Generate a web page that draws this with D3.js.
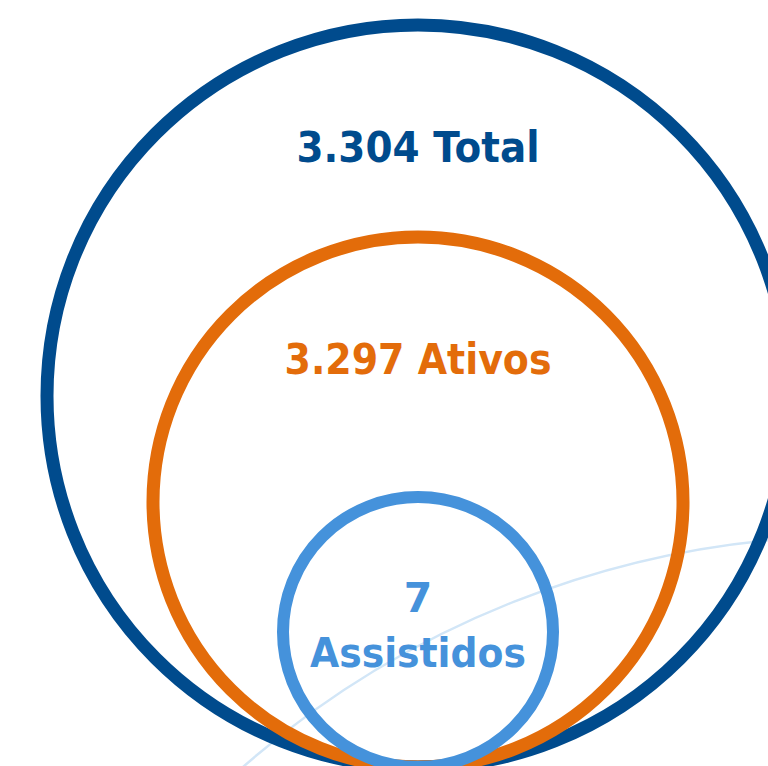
<!DOCTYPE html>
<html>
<head>
<meta charset="utf-8">
<script src="https://cdn.jsdelivr.net/npm/d3@7"></script>
<style>
  html, body { margin: 0; padding: 0; background: #fff; }
  svg { display: block; }
</style>
</head>
<body>
<svg id="mainSVG" width="768" height="766"></svg>
<script>
// data
var categories = ["Total", "Ativos", "Assistidos"];
var values = [3304, 3297, 7];
var valueLabels = ["3.304", "3.297", "7"];

var width = 768, height = 766;
var svg = d3.select("#mainSVG");

// circles are nested and all touch the same bottom line
var cx = 418, baseY = 767;

var radius = d3.scaleOrdinal().domain(categories).range([371, 265, 135]);
var color = d3.scaleOrdinal().domain(categories).range(["#004b8d", "#e36c0a", "#4592db"]);
var strokeW = d3.scaleOrdinal().domain(categories).range([13, 13, 12]);

var rows = categories.map(function(c, i) {
  return { cat: c, value: values[i], label: valueLabels[i] };
});

// faint decorative arc behind everything
svg.append("circle")
    .attr("cx", 858)
    .attr("cy", 1470)
    .attr("r", 934)
    .style("fill", "none")
    .style("stroke", "#d2e6f7")
    .style("stroke-width", 2.5);

svg.selectAll("circle.ring")
    .data(rows)
    .enter().append("circle")
    .attr("class", "ring")
    .attr("cx", cx)
    .attr("cy", function(d) { return baseY - radius(d.cat); })
    .attr("r", function(d) { return radius(d.cat); })
    .style("fill", "none")
    .style("stroke", function(d) { return color(d.cat); })
    .style("stroke-width", function(d) { return strokeW(d.cat); });

var font = "'DejaVu Sans', 'Noto Sans', sans-serif";

// labels for the two big circles: one line, near the top
rows.slice(0, 2).forEach(function(d, i) {
  var top = baseY - 2 * radius(d.cat);
  svg.append("text")
      .attr("x", cx)
      .attr("y", top + 137)
      .attr("text-anchor", "middle")
      .attr("font-family", font)
      .attr("font-weight", "bold")
      .attr("font-size", 42)
      .attr("fill", color(d.cat))
      .attr("textLength", i == 0 ? 243 : 267)
      .attr("lengthAdjust", "spacingAndGlyphs")
      .text(d.label + " " + d.cat);
});

// small circle: number and label on two lines
var small = rows[2];
var cyS = baseY - radius(small.cat);
svg.append("text")
    .attr("x", cx)
    .attr("y", cyS - 20)
    .attr("text-anchor", "middle")
    .attr("font-family", font)
    .attr("font-weight", "bold")
    .attr("font-size", 41)
    .attr("fill", color(small.cat))
    .text(small.label);
svg.append("text")
    .attr("x", cx)
    .attr("y", cyS + 35)
    .attr("text-anchor", "middle")
    .attr("font-family", font)
    .attr("font-weight", "bold")
    .attr("font-size", 41)
    .attr("fill", color(small.cat))
    .attr("textLength", 216)
    .attr("lengthAdjust", "spacingAndGlyphs")
    .text(small.cat);
</script>
</body>
</html>
